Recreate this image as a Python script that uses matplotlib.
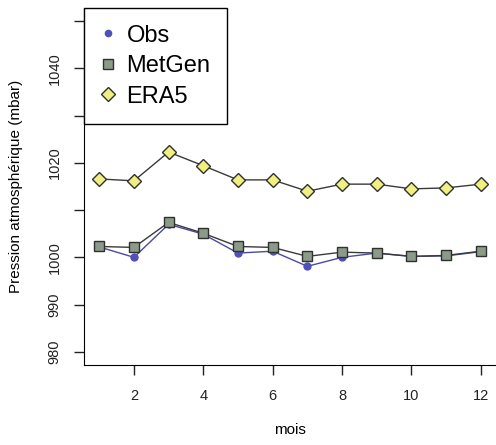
import matplotlib.pyplot as plt
from matplotlib.lines import Line2D

plt.rcParams['font.family'] = ['Liberation Sans', 'DejaVu Sans']

mois = [1, 2, 3, 4, 5, 6, 7, 8, 9, 10, 11, 12]
obs = [1002.2, 1000.0, 1007.0, 1004.9, 1000.9, 1001.3, 998.1, 1000.0, 1000.9, 1000.2, 1000.3, 1001.2]
metgen = [1002.3, 1002.1, 1007.4, 1005.1, 1002.3, 1002.1, 1000.2, 1001.1, 1000.9, 1000.2, 1000.4, 1001.3]
era5 = [1016.6, 1016.2, 1022.3, 1019.4, 1016.4, 1016.4, 1014.0, 1015.5, 1015.5, 1014.5, 1014.7, 1015.5]

yticks = [980, 990, 1000, 1010, 1020, 1030, 1040, 1050]
ylabels = ['980', '990', '1000', '', '1020', '', '1040', '']

fig = plt.figure(figsize=(4.96, 4.45), dpi=100)
ax = fig.add_axes([84/496, 80/445, 1 - 84/496, (365 - 8)/445])

ax.plot(mois, obs, color='#4a4aa0', lw=1, marker='o', ms=5, mfc='#5050b8', mec='#5050b8', zorder=2)
ax.plot(mois, metgen, color='#3a3a3a', lw=1, marker='s', ms=7.5, mfc='#8c9a88', mec='#303030', mew=1, zorder=3)
ax.plot(mois, era5, color='#3a3a3a', lw=1, marker='D', ms=7.5, mfc='#f0f080', mec='#303030', mew=1, zorder=3)

ax.set_xlim(0.56, 12.44)
ax.set_ylim(977.2, 1052.8)
ax.set_xticks([2, 4, 6, 8, 10, 12])
ax.set_yticks(yticks)
ax.set_yticklabels(ylabels, rotation=90, va='center')
ax.tick_params(direction='out', length=7, width=1, labelsize=10.5, colors='#222222')
ax.tick_params(axis='x', pad=10)
ax.tick_params(axis='y', pad=9)
ax.spines['top'].set_visible(False)
ax.spines['right'].set_visible(False)
ax.set_xlabel('mois', fontsize=11, labelpad=15)
ax.set_ylabel('Pression atmosphérique (mbar)', fontsize=11, labelpad=18)

handles = [
    Line2D([], [], ls='none', marker='o', ms=4.5, mfc='#5050b8', mec='#5050b8'),
    Line2D([], [], ls='none', marker='s', ms=6.5, mfc='#8c9a88', mec='#303030'),
    Line2D([], [], ls='none', marker='D', ms=7, mfc='#f0f080', mec='#303030'),
]
leg = ax.legend(handles, ['Obs', 'MetGen', 'ERA5'], loc='upper left', borderaxespad=0,
                fancybox=False, edgecolor='black', fontsize=17, handlelength=0.6,
                handletextpad=0.5, labelspacing=0.36, borderpad=0.7)
leg.get_frame().set_linewidth(1)
leg.get_frame().set_alpha(1)

fig.savefig('out.png', dpi=100)
